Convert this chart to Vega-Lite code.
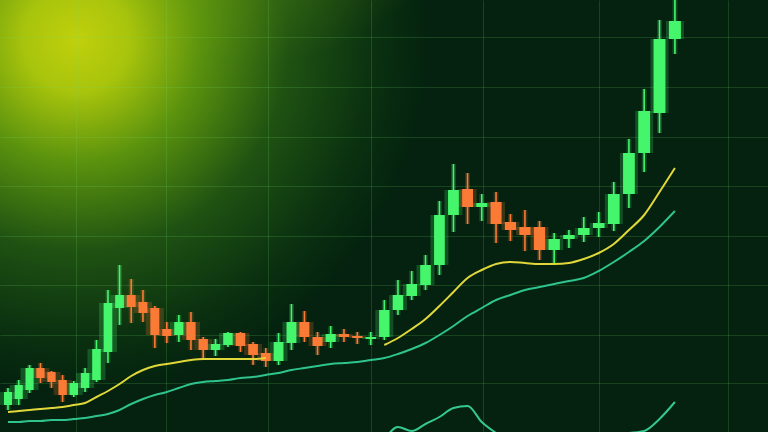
{
  "$schema": "https://vega.github.io/schema/vega-lite/v6.json",
  "width": 768,
  "height": 432,
  "autosize": {"type": "fit", "contains": "padding"},
  "padding": 0,
  "background": "#03200f",
  "config": {
    "view": {
      "stroke": null,
      "fill": {"gradient": "radial", "x1": 0.1, "y1": 0.27, "r1": 0, "x2": 0.1, "y2": 0.27, "r2": 0.46,
        "stops": [
          {"offset": 0, "color": "#c0d00c"},
          {"offset": 0.15, "color": "#a8c40c"},
          {"offset": 0.35, "color": "#5a920e"},
          {"offset": 0.6, "color": "#1f5212"},
          {"offset": 0.85, "color": "#0a3010"},
          {"offset": 1, "color": "#04220f"}
        ]}
    },
    "axis": {"grid": true, "labels": false, "ticks": false, "domain": false, "title": null, "gridColor": "#6ee06a", "gridOpacity": 0.18, "gridWidth": 1}
  },
  "data": {"values": [
    {"day":114,"open":27,"high":44,"low":22,"close":40,"ma_fast":20,"ma_slow":10,"osc":null},
    {"day":115,"open":33,"high":52,"low":27,"close":47,"ma_fast":21,"ma_slow":10,"osc":null},
    {"day":116,"open":42,"high":67,"low":39,"close":64,"ma_fast":22,"ma_slow":11,"osc":null},
    {"day":117,"open":64,"high":69,"low":49,"close":54,"ma_fast":23,"ma_slow":11,"osc":null},
    {"day":118,"open":60,"high":61,"low":44,"close":50,"ma_fast":24,"ma_slow":12,"osc":null},
    {"day":119,"open":52,"high":57,"low":30,"close":37,"ma_fast":25,"ma_slow":12,"osc":null},
    {"day":120,"open":37,"high":51,"low":35,"close":49,"ma_fast":27,"ma_slow":13,"osc":null},
    {"day":121,"open":44,"high":64,"low":40,"close":59,"ma_fast":29,"ma_slow":14,"osc":null},
    {"day":122,"open":52,"high":92,"low":50,"close":83,"ma_fast":35,"ma_slow":16,"osc":null},
    {"day":123,"open":80,"high":142,"low":69,"close":129,"ma_fast":41,"ma_slow":18,"osc":null},
    {"day":124,"open":124,"high":167,"low":107,"close":137,"ma_fast":48,"ma_slow":22,"osc":null},
    {"day":125,"open":137,"high":153,"low":109,"close":125,"ma_fast":56,"ma_slow":28,"osc":null},
    {"day":126,"open":130,"high":142,"low":110,"close":119,"ma_fast":62,"ma_slow":33,"osc":null},
    {"day":127,"open":124,"high":126,"low":84,"close":97,"ma_fast":66,"ma_slow":37,"osc":null},
    {"day":128,"open":103,"high":110,"low":89,"close":96,"ma_fast":68,"ma_slow":40,"osc":null},
    {"day":129,"open":97,"high":117,"low":90,"close":110,"ma_fast":70,"ma_slow":44,"osc":null},
    {"day":130,"open":110,"high":120,"low":82,"close":92,"ma_fast":72,"ma_slow":48,"osc":null},
    {"day":131,"open":93,"high":95,"low":74,"close":82,"ma_fast":73,"ma_slow":50,"osc":null},
    {"day":132,"open":82,"high":93,"low":76,"close":88,"ma_fast":73,"ma_slow":51,"osc":null},
    {"day":133,"open":87,"high":100,"low":85,"close":99,"ma_fast":73,"ma_slow":52,"osc":null},
    {"day":134,"open":99,"high":100,"low":80,"close":86,"ma_fast":73,"ma_slow":54,"osc":null},
    {"day":135,"open":88,"high":90,"low":67,"close":77,"ma_fast":73,"ma_slow":55,"osc":null},
    {"day":136,"open":79,"high":84,"low":65,"close":71,"ma_fast":74,"ma_slow":57,"osc":null},
    {"day":137,"open":71,"high":99,"low":67,"close":90,"ma_fast":null,"ma_slow":59,"osc":null},
    {"day":138,"open":89,"high":128,"low":82,"close":110,"ma_fast":null,"ma_slow":62,"osc":null},
    {"day":139,"open":110,"high":121,"low":90,"close":95,"ma_fast":null,"ma_slow":64,"osc":null},
    {"day":140,"open":95,"high":100,"low":77,"close":86,"ma_fast":null,"ma_slow":66,"osc":null},
    {"day":141,"open":90,"high":106,"low":84,"close":98,"ma_fast":null,"ma_slow":68,"osc":null},
    {"day":142,"open":98,"high":103,"low":90,"close":95,"ma_fast":null,"ma_slow":69,"osc":null},
    {"day":143,"open":96,"high":100,"low":88,"close":94,"ma_fast":null,"ma_slow":70,"osc":null},
    {"day":144,"open":93,"high":100,"low":87,"close":95,"ma_fast":null,"ma_slow":72,"osc":null},
    {"day":145,"open":95,"high":132,"low":92,"close":122,"ma_fast":87,"ma_slow":74,"osc":-8},
    {"day":146,"open":122,"high":152,"low":117,"close":137,"ma_fast":94,"ma_slow":78,"osc":5},
    {"day":147,"open":136,"high":161,"low":132,"close":148,"ma_fast":103,"ma_slow":83,"osc":1},
    {"day":148,"open":147,"high":177,"low":142,"close":167,"ma_fast":113,"ma_slow":89,"osc":8},
    {"day":149,"open":167,"high":231,"low":157,"close":217,"ma_fast":126,"ma_slow":97,"osc":15},
    {"day":150,"open":217,"high":268,"low":200,"close":242,"ma_fast":140,"ma_slow":106,"osc":24},
    {"day":151,"open":243,"high":259,"low":208,"close":225,"ma_fast":154,"ma_slow":116,"osc":26},
    {"day":152,"open":225,"high":238,"low":211,"close":229,"ma_fast":162,"ma_slow":124,"osc":10},
    {"day":153,"open":230,"high":240,"low":189,"close":208,"ma_fast":168,"ma_slow":132,"osc":-1},
    {"day":154,"open":210,"high":218,"low":191,"close":202,"ma_fast":170,"ma_slow":137,"osc":null},
    {"day":155,"open":205,"high":222,"low":181,"close":197,"ma_fast":169,"ma_slow":142,"osc":null},
    {"day":156,"open":205,"high":211,"low":172,"close":182,"ma_fast":168,"ma_slow":145,"osc":null},
    {"day":157,"open":182,"high":199,"low":169,"close":193,"ma_fast":168,"ma_slow":148,"osc":null},
    {"day":158,"open":193,"high":202,"low":184,"close":197,"ma_fast":169,"ma_slow":151,"osc":null},
    {"day":159,"open":197,"high":215,"low":190,"close":204,"ma_fast":173,"ma_slow":154,"osc":null},
    {"day":160,"open":204,"high":220,"low":195,"close":209,"ma_fast":179,"ma_slow":161,"osc":null},
    {"day":161,"open":208,"high":250,"low":201,"close":238,"ma_fast":188,"ma_slow":170,"osc":null},
    {"day":162,"open":238,"high":293,"low":224,"close":279,"ma_fast":202,"ma_slow":180,"osc":-1},
    {"day":163,"open":279,"high":343,"low":260,"close":321,"ma_fast":217,"ma_slow":191,"osc":1},
    {"day":164,"open":319,"high":412,"low":299,"close":393,"ma_fast":240,"ma_slow":205,"osc":13},
    {"day":165,"open":393,"high":440,"low":378,"close":411,"ma_fast":264,"ma_slow":221,"osc":30}
  ]},
  "encoding": {
    "x": {"field": "day", "type": "quantitative",
      "scale": {"type": "pow", "exponent": 2, "domain": [113.72, 170.6], "nice": false, "zero": false},
      "axis": {"values": [120.2, 127.9, 136.2, 144, 152.1, 160, 168.4]}}
  },
  "layer": [
    {
      "data": {"values": [{}]},
      "mark": {"type": "rect", "fill": {"gradient": "radial", "x1": 0.33, "y1": 0.0, "r1": 0, "x2": 0.33, "y2": 0.0, "r2": 0.3,
        "stops": [{"offset": 0, "color": "rgba(140,190,15,0.5)"}, {"offset": 1, "color": "rgba(140,190,15,0)"}]}},
      "encoding": {"x": {"value": 0}, "x2": {"value": "width"}, "y": {"value": 0}, "y2": {"value": "height"}}
    },
    {
      "mark": {"type": "rule", "strokeWidth": 5, "opacity": 0.2, "clip": true},
      "encoding": {
        "y": {"field": "low", "type": "quantitative", "scale": {"domain": [0, 432], "nice": false, "zero": false},
          "axis": {"values": [49, 97, 147, 196, 246, 295, 345, 395]}},
        "y2": {"field": "high"},
        "color": {"condition": {"test": "datum.close >= datum.open", "value": "#45f56c"}, "value": "#fa7a36"}
      }
    },
    {
      "mark": {"type": "bar", "size": 18, "opacity": 0.22, "clip": true},
      "encoding": {
        "y": {"field": "open", "type": "quantitative", "scale": {"domain": [0, 432], "nice": false, "zero": false},
          "axis": {"values": [49, 97, 147, 196, 246, 295, 345, 395]}},
        "y2": {"field": "close"},
        "color": {"condition": {"test": "datum.close >= datum.open", "value": "#45f56c"}, "value": "#fa7a36"}
      }
    },
    {
      "mark": {"type": "rule", "strokeWidth": 1.6, "clip": true},
      "encoding": {
        "y": {"field": "low", "type": "quantitative", "scale": {"domain": [0, 432], "nice": false, "zero": false},
          "axis": {"values": [49, 97, 147, 196, 246, 295, 345, 395]}},
        "y2": {"field": "high"},
        "color": {"condition": {"test": "datum.close >= datum.open", "value": "#45f56c"}, "value": "#fa7a36"}
      }
    },
    {
      "mark": {"type": "bar", "clip": true},
      "encoding": {
        "y": {"field": "open", "type": "quantitative", "scale": {"domain": [0, 432], "nice": false, "zero": false},
          "axis": {"values": [49, 97, 147, 196, 246, 295, 345, 395]}},
        "y2": {"field": "close"},
        "size": {"field": "day", "type": "quantitative", "scale": {"domain": [114, 165], "range": [8, 12]}, "legend": null},
        "color": {"condition": {"test": "datum.close >= datum.open", "value": "#45f56c"}, "value": "#fa7a36"}
      }
    },
    {
      "mark": {"type": "line", "color": "#e0d83a", "strokeWidth": 2, "interpolate": "monotone", "invalid": "break-paths-filter-domains", "clip": true},
      "encoding": {
        "y": {"field": "ma_fast", "type": "quantitative", "scale": {"domain": [0, 432], "nice": false, "zero": false},
          "axis": {"values": [49, 97, 147, 196, 246, 295, 345, 395]}}
      }
    },
    {
      "mark": {"type": "line", "color": "#2fc48e", "strokeWidth": 2, "interpolate": "monotone", "clip": true},
      "encoding": {
        "y": {"field": "ma_slow", "type": "quantitative", "scale": {"domain": [0, 432], "nice": false, "zero": false},
          "axis": {"values": [49, 97, 147, 196, 246, 295, 345, 395]}}
      }
    },
    {
      "mark": {"type": "line", "color": "#35c890", "strokeWidth": 2, "interpolate": "monotone", "invalid": "break-paths-filter-domains", "clip": true},
      "encoding": {
        "y": {"field": "osc", "type": "quantitative", "scale": {"domain": [0, 432], "nice": false, "zero": false},
          "axis": {"values": [49, 97, 147, 196, 246, 295, 345, 395]}}
      }
    }
  ]
}
